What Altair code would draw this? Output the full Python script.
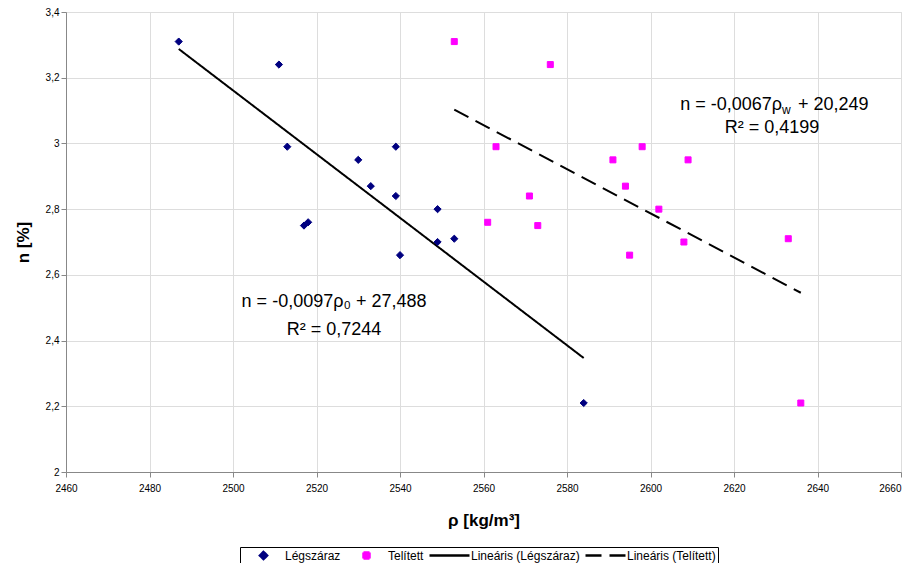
import altair as alt
import pandas as pd

# Légszáraz (air-dry) series
rho0 = [2487, 2511, 2513, 2517, 2518, 2530, 2533, 2539, 2539, 2540, 2549, 2549, 2553, 2584]
n0 = [3.31, 3.24, 2.99, 2.75, 2.76, 2.95, 2.87, 2.99, 2.84, 2.66, 2.80, 2.70, 2.71, 2.21]
# Telített (saturated) series
rhow = [2553, 2576, 2563, 2591, 2598, 2609, 2594, 2571, 2602, 2561, 2573, 2595, 2608, 2633, 2636]
nw = [3.31, 3.24, 2.99, 2.95, 2.99, 2.95, 2.87, 2.84, 2.80, 2.76, 2.75, 2.66, 2.70, 2.71, 2.21]

series_names = ["Légszáraz", "Telített", "Lineáris (Légszáraz)", "Lineáris (Telített)"]
x_ticks = list(range(2460, 2661, 20))
y_ticks = [2, 2.2, 2.4, 2.6, 2.8, 3, 3.2, 3.4]

pts = pd.DataFrame({
    "x": rho0 + rhow,
    "n": n0 + nw,
    "series": ["Légszáraz"] * len(rho0) + ["Telített"] * len(rhow),
    "fit": ["Lineáris (Légszáraz)"] * len(rho0) + ["Lineáris (Telített)"] * len(rhow),
})

FONT = "Liberation Sans"
colors = ["#000080", "#FF00FF", "#000000", "#000000"]
# custom paths inside the -1..1 box (box = 40 px at size 1600)
DIAMOND = "M-0.18,0L0,-0.18L0.18,0L0,0.18Z"
SQUARE = "M-0.15,-0.15L0.15,-0.15L0.15,0.15L-0.15,0.15Z"
LINE = "M-1,0L1,0"
shapes = [DIAMOND, SQUARE, LINE, LINE]
dashes = [[1, 0], [1, 0], [1, 0], [16, 8]]

xscale = alt.Scale(domain=[2460, 2660], nice=False)
yscale = alt.Scale(domain=[2, 3.4], nice=False)
xaxis = alt.Axis(values=x_ticks, format="d", title="ρ [kg/m³]", titleFontSize=17,
                 titleFontWeight="bold", titlePadding=19, labelPadding=6, labelFlush=False,
                 labelAlign=alt.ConditionalAxisLabelAlign(
                     condition={"test": "datum.value >= 2660", "value": "right"}, value="center"))
yaxis = alt.Axis(values=y_ticks, labelExpr="replace(toString(datum.value), '.', ',')",
                 title="n [%]", titleFontSize=17, titleFontWeight="bold", titlePadding=13,
                 labelFlush=False)

leg = alt.Legend(title=None, orient="none", legendX=174, legendY=535, direction="horizontal",
                 strokeColor="black", fillColor="white", padding=2, labelFontSize=12,
                 labelFont=FONT, labelColor="black", symbolStrokeWidth=2.5, symbolSize=1600,
                 clipHeight=13, columnPadding=4, labelOffset=0)

dom = series_names
points = alt.Chart(pts).mark_point(filled=True, opacity=1, strokeWidth=1, size=1600).encode(
    x=alt.X("x:Q", scale=xscale, axis=xaxis),
    y=alt.Y("n:Q", scale=yscale, axis=yaxis),
    fill=alt.Fill("series:N", scale=alt.Scale(domain=dom, range=colors), legend=leg),
    stroke=alt.Stroke("series:N", scale=alt.Scale(domain=dom, range=colors), legend=leg),
    shape=alt.Shape("series:N", scale=alt.Scale(domain=dom, range=shapes), legend=leg),
)

lines = alt.Chart(pts).transform_regression("x", "n", groupby=["fit"]).mark_line(strokeWidth=2).encode(
    x=alt.X("x:Q", scale=xscale),
    y=alt.Y("n:Q", scale=yscale),
    stroke=alt.Stroke("fit:N", scale=alt.Scale(domain=dom, range=colors), legend=leg),
    strokeDash=alt.StrokeDash("fit:N", scale=alt.Scale(domain=dom, range=dashes), legend=leg),
)

ann = pd.DataFrame({
    "x": [2524.2, 2524.2],
    "n": [2.517, 2.431],
    "t": ["n = -0,0097ρ₀ + 27,488", "R² = 0,7244"],
})
ann_left = alt.Chart(ann).mark_text(font=FONT, fontSize=18, align="center", baseline="middle").encode(
    x=alt.X("x:Q", scale=xscale), y=alt.Y("n:Q", scale=yscale), text="t:N")

ann2 = pd.DataFrame({"x": [2631.5], "n": [3.116], "t": ["n = -0,0067ρ"]})
ann2_main = alt.Chart(ann2).mark_text(font=FONT, fontSize=18, align="right", baseline="middle").encode(
    x=alt.X("x:Q", scale=xscale), y=alt.Y("n:Q", scale=yscale), text="t:N")
ann2_sub = alt.Chart(ann2).mark_text(font=FONT, fontSize=12, align="left", baseline="middle", dy=5).encode(
    x=alt.X("x:Q", scale=xscale), y=alt.Y("n:Q", scale=yscale), text=alt.value("w"))
ann2_tail = alt.Chart(ann2).mark_text(font=FONT, fontSize=18, align="left", baseline="middle", dx=16).encode(
    x=alt.X("x:Q", scale=xscale), y=alt.Y("n:Q", scale=yscale), text=alt.value("+ 20,249"))
ann3 = pd.DataFrame({"x": [2629.1], "n": [3.046], "t": ["R² = 0,4199"]})
ann3_t = alt.Chart(ann3).mark_text(font=FONT, fontSize=18, align="center", baseline="middle").encode(
    x=alt.X("x:Q", scale=xscale), y=alt.Y("n:Q", scale=yscale), text="t:N")

chart = alt.layer(lines, points, ann_left, ann2_main, ann2_sub, ann2_tail, ann3_t).properties(
    width=835, height=460,
    autosize=alt.AutoSizeParams(type="none"),
    padding={"left": 58, "top": 4, "right": 6, "bottom": 91},
).configure_axis(
    labelFont=FONT, labelFontSize=11, labelColor="black", titleFont=FONT, titleColor="black",
    domainColor="black", tickColor="black", gridColor="#c0c0c0", grid=True, tickSize=5,
).configure_view(stroke=None).configure(background="white")

chart.save("out.html", embed_options={"renderer": "svg", "actions": False})
